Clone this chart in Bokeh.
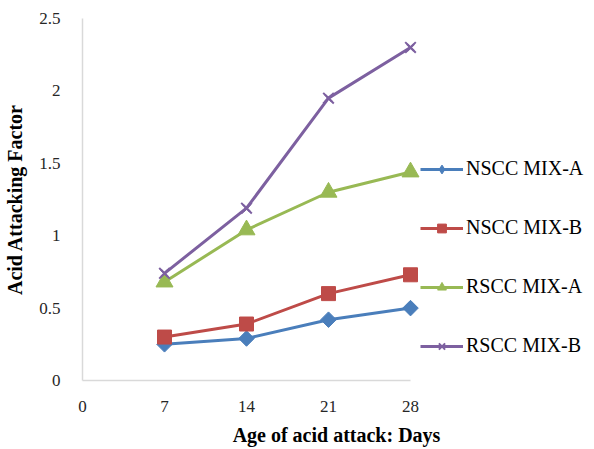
from bokeh.plotting import figure
from bokeh.models import Range1d, FixedTicker, Legend, LegendItem
from bokeh.embed import file_html
from bokeh.resources import INLINE

days = [7, 14, 21, 28]
nscc_a = [0.25, 0.29, 0.42, 0.50]
nscc_b = [0.30, 0.39, 0.60, 0.73]
rscc_a = [0.68, 1.04, 1.30, 1.44]
rscc_b = [0.74, 1.19, 1.95, 2.30]
series_names = ["NSCC MIX-A", "NSCC MIX-B", "RSCC MIX-A", "RSCC MIX-B"]
x_ticks = [0, 7, 14, 21, 28]
y_ticks = [0, 0.5, 1, 1.5, 2, 2.5]
y_tick_labels = ["0", "0.5", "1", "1.5", "2", "2.5"]

FONT = "Liberation Serif"
W, H = 594, 449
left, right, top, bottom = 82, 4, 18, 69
frame_w = W - left - right
x_end = 28 * frame_w / (410 - 82)

p = figure(width=W, height=H, output_backend="svg", toolbar_location=None,
           x_range=Range1d(0, x_end), y_range=Range1d(0, 2.5),
           min_border_left=left, min_border_right=right,
           min_border_top=top, min_border_bottom=bottom)
p.outline_line_color = None
p.grid.visible = False
p.background_fill_color = "white"
p.border_fill_color = "white"

for ax in (p.xaxis[0], p.yaxis[0]):
    ax.axis_line_color = "#D9D9D9"
    ax.axis_line_width = 1.5
    ax.major_tick_line_color = None
    ax.minor_tick_line_color = None
    ax.major_label_text_font = FONT
    ax.major_label_text_font_size = "17px"
    ax.major_label_text_color = "#262626"
    ax.axis_label_text_font = FONT
    ax.axis_label_text_font_style = "bold"
    ax.axis_label_text_font_size = "20px"
    ax.axis_label_text_color = "#000000"

p.xaxis.ticker = FixedTicker(ticks=x_ticks)
p.xaxis.bounds = (0, 28)
p.xaxis.major_label_standoff = 14
p.xaxis.axis_label = "Age of acid attack: Days"
p.xaxis.axis_label_standoff = 9

p.yaxis.ticker = FixedTicker(ticks=y_ticks)
p.yaxis.major_label_overrides = {t: l for t, l in zip(y_ticks, y_tick_labels)}
p.yaxis.bounds = (0, 2.5)
p.yaxis.major_label_standoff = 16
p.yaxis.axis_label = "Acid Attacking Factor"
p.yaxis.axis_label_standoff = 10

colors = ["#4A7EBB", "#BE4B48", "#98B954", "#7D60A0"]
# (marker, angle, plot size, legend marker, legend size)
markers = [("square", 0.785398, 11, "diamond", 10), ("square", 0, 14, "square", 8),
           ("triangle", 0, 17, "triangle", 9), ("x", 0, 15, "x", 10)]
values = [nscc_a, nscc_b, rscc_a, rscc_b]

items = []
for name, ys, c, (m, ang, sz, lm, lsz) in zip(series_names, values, colors, markers):
    ln = p.line(days, ys, line_color=c, line_width=3)
    small = p.scatter(days, ys, marker=lm, size=lsz, fill_color=c,
                      line_color=c, line_width=2 if lm == "x" else 1)
    p.scatter(days, ys, marker=m, angle=ang, size=sz, fill_color=c,
              line_color=c, line_width=2 if m == "x" else 1)
    items.append(LegendItem(label=name, renderers=[ln, small]))

legend = Legend(items=items, location=(338, 23))
legend.background_fill_alpha = 0
legend.border_line_color = None
legend.label_text_font = FONT
legend.label_text_font_size = "20px"
legend.label_text_color = "#000000"
legend.glyph_width = 43
legend.glyph_height = 22
legend.label_height = 22
legend.label_standoff = 3
legend.spacing = 36
legend.padding = 0
legend.margin = 0
p.add_layout(legend)

open("out.html", "w").write(file_html(p, INLINE))
